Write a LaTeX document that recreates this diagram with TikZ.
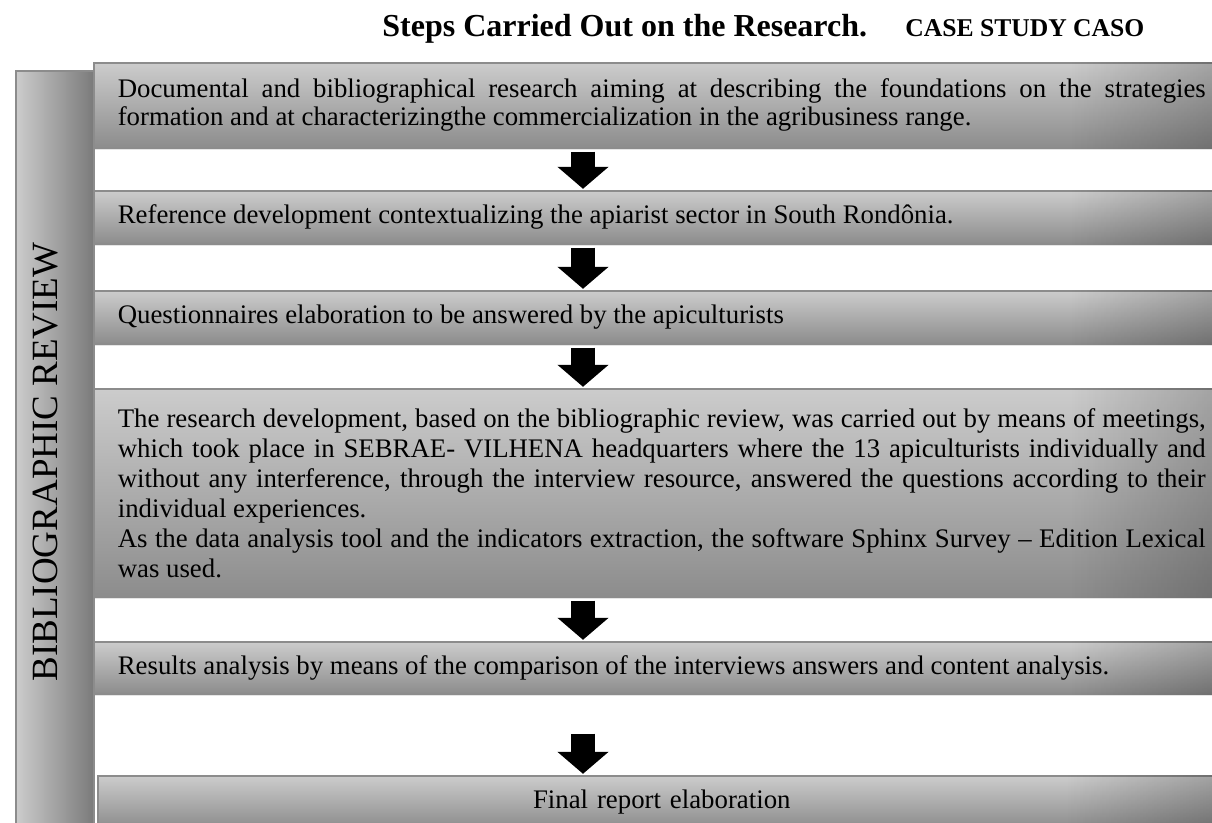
\documentclass[tikz,border=0pt]{standalone}
\usepackage{fontspec}
\setmainfont{Liberation Serif}
\usetikzlibrary{arrows.meta, positioning, calc, shadows, fadings}
\definecolor{boxline}{HTML}{8C8C8C}
\tikzfading[name=fade right, left color=transparent!100, right color=transparent!0]

\begin{document}
\begin{tikzpicture}[
  x=0.5pt, y=-0.5pt,
  stepbox/.style={
    rectangle,
    anchor=north west,
    draw=boxline,
    line width=0.8pt,
    inner xsep=12pt,
    inner ysep=0pt,
    text width=544pt,
    align=justify,
    top color=black!20,
    middle color=black!8,
    bottom color=black!45,
    drop shadow={shadow xshift=0.4pt, shadow yshift=-1pt, opacity=0.2},
    font=\fontsize{13.4}{14}\selectfont
  },
  sidebar/.style={
    rectangle,
    anchor=north west,
    draw=boxline,
    line width=0.8pt,
    inner sep=0pt,
    minimum width=39pt,
    minimum height=420pt,
    left color=black!20,
    middle color=black!8,
    right color=black!52
  },
  downarrow/.style={
    line width=12pt,
    -{Triangle[length=11pt, width=25pt]},
    shorten <=1.5pt,
    shorten >=0.6pt
  }
]
  \clip (0,0) rectangle (1212,823);
  \fill[white] (0,0) rectangle (1212,823);

  % title line
  \node[anchor=base west, font=\fontsize{16}{18}\selectfont\bfseries, inner sep=0pt] (title) at (382,37) {Steps Carried Out on the Research.};
  \node[anchor=base west, font=\fontsize{12.8}{14}\selectfont\bfseries, inner sep=0pt] (case) at (905,37) {CASE STUDY CASO};

  % side bar
  \node[sidebar] (review) at (15,70) {};
  \node[rotate=90, font=\fontsize{18.5}{20}\selectfont] (reviewtext) at (46,462) {BIBLIOGRAPHIC REVIEW};

  % steps
  \node[stepbox, minimum height=42.5pt] (s1) at (93,62) {Documental and bibliographical research aiming at describing the foundations on the strategies\linebreak formation and at characterizingthe commercialization in the agribusiness range.};
  \node[stepbox, minimum height=26.5pt] (s2) at (93,190) {Reference development contextualizing the apiarist sector in South Rondônia.};
  \node[stepbox, minimum height=26.5pt] (s3) at (93,290) {Questionnaires elaboration to be answered by the apiculturists};
  \node[stepbox, minimum height=104pt, font=\fontsize{13.4}{15}\selectfont] (s4) at (93,388) {The research development, based on the bibliographic review, was carried out by means of meetings,\linebreak which took place in SEBRAE- VILHENA headquarters where the 13 apiculturists individually and\linebreak without any interference, through the interview resource, answered the questions according to their\linebreak individual experiences.\\ As the data analysis tool and the indicators extraction, the software Sphinx Survey -- Edition Lexical\linebreak was used.};
  \node[stepbox, minimum height=26pt] (s5) at (93,641) {Results analysis by means of the comparison of the interviews answers and content analysis.};
  \node[stepbox, minimum height=26pt, text width=540pt, align=center] (s6) at (97,775) {Final report elaboration};

  % darker right ends
  \foreach \b in {s1,s2,s3,s4,s5,s6}
    \fill[black, fill opacity=0.22, path fading=fade right] ([xshift=-80pt]\b.north east) rectangle (\b.south east);

  % arrows between steps
  \coordinate (ax) at (583,0);
  \draw[downarrow] (s1.south -| ax) -- (s2.north -| ax);
  \draw[downarrow] (s2.south -| ax) -- (s3.north -| ax);
  \draw[downarrow] (s3.south -| ax) -- (s4.north -| ax);
  \draw[downarrow] (s4.south -| ax) -- (s5.north -| ax);
  \draw[downarrow, shorten <=19.5pt] (s5.south -| ax) -- (s6.north -| ax);
\end{tikzpicture}
\end{document}
